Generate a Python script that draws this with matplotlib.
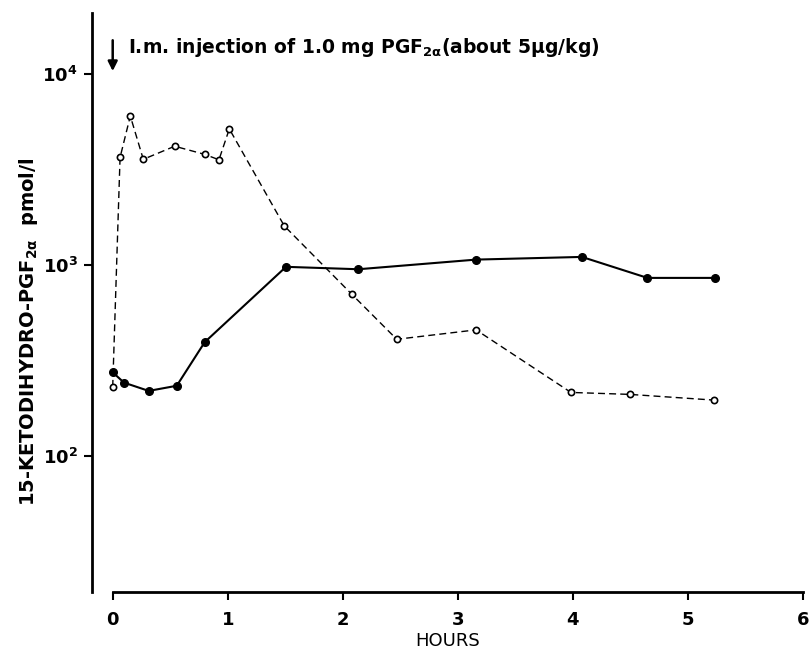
import matplotlib
matplotlib.use("Agg")
import matplotlib.pyplot as plt
from matplotlib.ticker import FixedLocator, NullLocator

plt.rcParams['font.family'] = ['DejaVu Sans']
plt.rcParams['mathtext.fontset'] = 'dejavusans'
plt.rcParams['mathtext.default'] = 'bf'

# Open circles, dashed line
hours_open = [0.0, 0.064, 0.153, 0.266, 0.539, 0.80, 0.924, 1.014, 1.492, 2.078, 2.47, 3.16, 3.985, 4.496, 5.23]
conc_open = [230, 3650, 6020, 3570, 4180, 3790, 3550, 5150, 1600, 703, 408, 457, 215, 210, 196]

# Filled circles, solid line
hours_fill = [0.0, 0.098, 0.313, 0.557, 0.80, 1.507, 2.136, 3.16, 4.08, 4.65, 5.24]
conc_fill = [274, 242, 219, 233, 394, 977, 949, 1066, 1101, 855, 855]

xticks = [0, 1, 2, 3, 4, 5, 6]
xticklabels = ['0', '1', '2', '3', '4', '5', '6']
yticks = [1e2, 1e3, 1e4]
yticklabels = [r'10$^{2}$', r'10$^{3}$', r'10$^{4}$']

fig = plt.figure(figsize=(8.09, 6.58), dpi=100)
ax = fig.add_axes([0.1133, 0.1003, 0.8789, 0.8804])

ax.plot(hours_open, conc_open, color='black', lw=1.0, ls=(0, (5, 3)),
        marker='o', ms=4.5, mfc='white', mec='black', mew=1.2, zorder=3)
ax.plot(hours_fill, conc_fill, color='black', lw=1.5, ls='-',
        marker='o', ms=5.5, mfc='black', mec='black', zorder=4)

ax.set_yscale('log')
ax.set_xlim(-0.183, 6.0)
ax.set_ylim(19.4, 20900)

ax.spines['top'].set_visible(False)
ax.spines['right'].set_visible(False)
ax.spines['left'].set_linewidth(2.0)
ax.spines['bottom'].set_linewidth(2.0)
ax.spines['bottom'].set_bounds(0, 6)

ax.xaxis.set_major_locator(FixedLocator(xticks))
ax.set_xticklabels(xticklabels, fontsize=13, fontweight='bold')
ax.yaxis.set_major_locator(FixedLocator(yticks))
ax.yaxis.set_minor_locator(NullLocator())
ax.set_yticklabels(yticklabels, fontsize=13, fontweight='bold')
ax.tick_params(axis='x', direction='out', length=6, width=1.5, pad=8)
ax.tick_params(axis='y', direction='out', length=6, width=1.5, pad=4)

ax.set_xlabel('HOURS', fontsize=13, labelpad=2)
ax.set_ylabel(r'15-KETODIHYDRO-PGF$_{2\alpha}$  pmol/l', fontsize=14,
              fontweight='bold')
ax.yaxis.set_label_coords(-0.072, 0.449)

ax.annotate('', xy=(0, 10000), xytext=(0, 15500),
            arrowprops=dict(arrowstyle='-|>', color='black', lw=1.8,
                            mutation_scale=14))
ax.text(0.13, 13800, r'I.m. injection of 1.0 mg PGF$_{2\alpha}$(about 5µg/kg)',
        fontsize=13.5, fontweight='bold', va='center', ha='left')

fig.savefig('out.png', dpi=100)
